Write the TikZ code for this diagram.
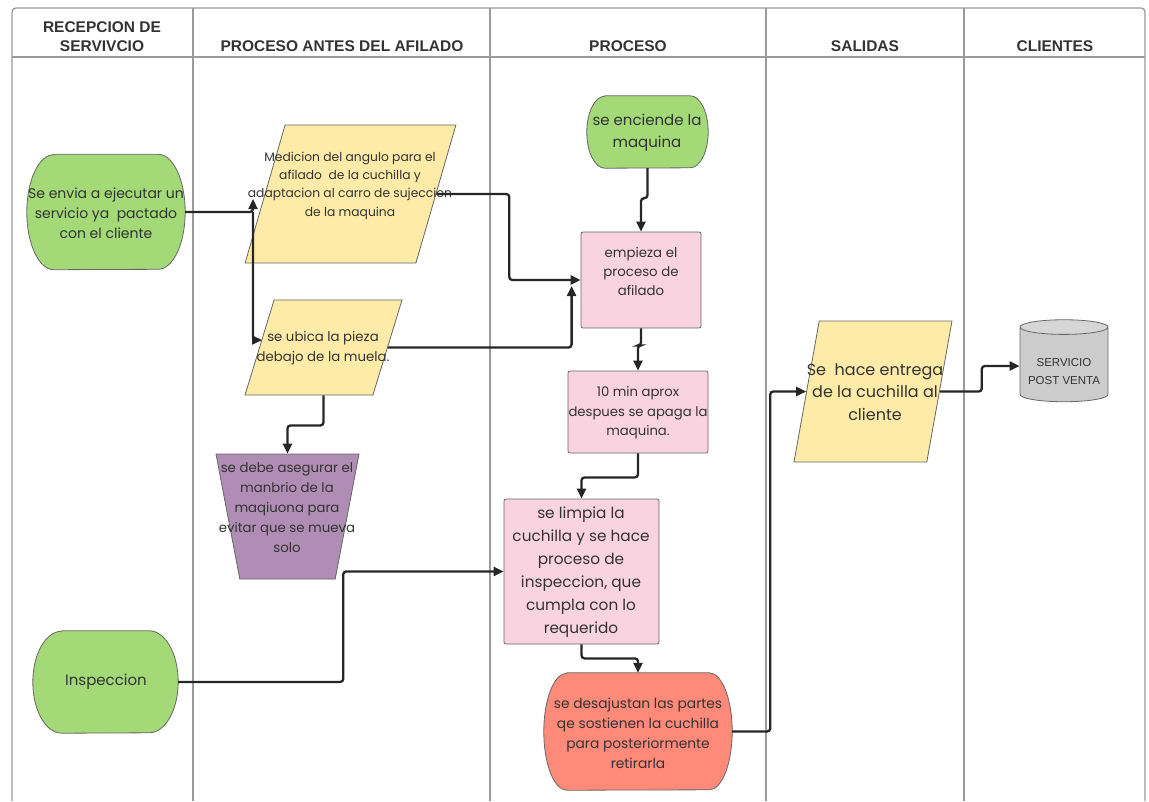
\documentclass[tikz,border=0pt]{standalone}
\usepackage{fontspec}
\newfontfamily\handfont{Poppins}
\newfontfamily\headfont{Liberation Sans}
\usepackage{tikz}
\usetikzlibrary{arrows.meta,shapes.geometric}

\definecolor{lanegray}{HTML}{9A9A9A}
\definecolor{inkgray}{HTML}{333333}
\definecolor{termgreen}{HTML}{A3D977}
\definecolor{paryellow}{HTML}{FFEBA8}
\definecolor{procpink}{HTML}{F9D3DF}
\definecolor{manpurple}{HTML}{B08DB4}
\definecolor{endsalmon}{HTML}{FF8A7A}
\definecolor{dbgray}{HTML}{CCCCCC}

\begin{document}
\begin{tikzpicture}[x=1pt,y=-1pt,
    lane/.style={draw=lanegray,line width=1.3pt},
    head/.style={font=\headfont\bfseries\fontsize{15.5}{19}\selectfont,text=inkgray,align=center},
    txt/.style 2 args={font=\handfont\fontsize{#1}{#2}\selectfont,text=inkgray,align=center,inner sep=0pt},
    box/.style={draw=black!60,line width=0.8pt},
    term/.style={rectangle,inner sep=0pt},
    proc/.style={box,rectangle,rounded corners=2pt,fill=procpink},
    para/.style 2 args={box,trapezium,trapezium stretches=true,trapezium left angle=#1,trapezium right angle=#2,fill=paryellow},
    flow/.style={-{Triangle[length=10pt,width=9pt]},draw=black!85,line width=2.3pt,rounded corners=3pt}]

  \useasboundingbox (0,0) rectangle (1149,801);

  % swimlanes
  \draw[lane,rounded corners=4pt] (12,801) -- (12,8) -- (1145,8) -- (1145,801);
  \draw[lane] (12,57) -- (1145,57);
  \foreach \x in {193,490,766,964}
    \draw[lane] (\x,8) -- (\x,801);

  \node[head] (h1) at (102,37) {RECEPCION DE\\SERVIVCIO};
  \node[head] (h2) at (342,46) {PROCESO ANTES DEL AFILADO};
  \node[head] (h3) at (628,46) {PROCESO};
  \node[head] (h4) at (865,46) {SALIDAS};
  \node[head] (h5) at (1055,46) {CLIENTES};

  % shapes
  \node[term,minimum width=158,minimum height=115] (envia) at (106,212) {};
  \node[term,minimum width=145,minimum height=102] (insp) at (105.5,682) {};
  \node[term,minimum width=121,minimum height=72] (enc) at (647.5,132) {};
  \node[term,minimum width=188,minimum height=117] (des) at (638,731.5) {};
  % terminators with elliptic ends
  \foreach \n/\rx/\ry/\c in {envia/27/57.5/termgreen,insp/29/51/termgreen,enc/18/36/termgreen,des/23/58.5/endsalmon}
    \draw[box,fill=\c] ([xshift=\rx pt]\n.north west) -- ([xshift=-\rx pt]\n.north east)
      arc[start angle=90,end angle=-90,x radius=\rx pt,y radius=\ry pt]
      -- ([xshift=\rx pt]\n.south west) arc[start angle=270,end angle=90,x radius=\rx pt,y radius=\ry pt] -- cycle;

  \node[para={73}{107},minimum width=211,minimum height=138] (med) at (350.5,194) {};
  \node[para={73.6}{106.4},minimum width=157,minimum height=95] (ubica) at (323.5,347.5) {};
  \node[box,trapezium,trapezium stretches=true,trapezium left angle=104,trapezium right angle=104,
        minimum width=143,minimum height=125,fill=manpurple] (pur) at (287.5,516.5) {};
  \node[proc,minimum width=120,minimum height=96] (emp) at (641,280) {};
  \node[proc,minimum width=140,minimum height=82] (min) at (638,412) {};
  \node[proc,minimum width=155,minimum height=145] (limp) at (581.5,571.5) {};
  \node[para={76.8}{103.2},minimum width=158,minimum height=141] (ent) at (873,391.5) {};
  \node[box,cylinder,shape border rotate=90,aspect=2.2,minimum width=88,minimum height=82,
        cylinder uses custom fill,cylinder body fill=dbgray,cylinder end fill=dbgray!80!white] (cyl) at (1064,366) {};

  % texts
  \node[txt={14}{20}] (envia-t) at (106,213) {Se envia a ejecutar un\\servicio ya\ \ pactado\\con el cliente};
  \node[txt={12.3}{18.3}] (med-t) at (350,185.5) {Medicion del angulo para el\\afilado\ \ de la cuchilla y\\adaptacion al carro de sujeccion\\de la maquina};
  \node[txt={13.3}{20}] (ubica-t) at (323,348) {se ubica la pieza\\debajo de la muela.};
  \node[txt={13.3}{20}] (pur-t) at (287,508) {se debe asegurar el\\manbrio de la\\maqiuona para\\evitar que se mueva\\solo};
  \node[txt={15}{20}] (insp-t) at (106,682) {Inspeccion};
  \node[txt={15}{22}] (enc-t) at (647,133) {se enciende la\\maquina};
  \node[txt={13.3}{19}] (emp-t) at (641,271) {empieza el\\proceso de\\afilado};
  \node[txt={13.2}{19.5}] (min-t) at (638,413) {10 min aprox\\despues se apaga la\\maquina.};
  \node[txt={15.3}{23}] (limp-t) at (581,572) {se limpia la\\cuchilla y se hace\\proceso de\\inspeccion, que\\cumpla con lo\\requerido};
  \node[txt={13.8}{20}] (des-t) at (638,733) {se desajustan las partes\\qe sostienen la cuchilla\\para posteriormente\\retirarla};
  \node[txt={16}{22.5}] (ent-t) at (875,392) {Se\ \ hace entrega\\de la cuchilla al\\cliente};
  \node[font=\headfont\fontsize{11.5}{18}\selectfont,text=inkgray,align=center] (cyl-t) at (1064,372) {SERVICIO\\POST VENTA};

  % connectors
  \coordinate (j1) at (253,212);
  \coordinate (med-in) at (253,199);
  \coordinate (ubica-in) at (262,340);
  \coordinate (emp-in) at ([shift={(-9pt,-6pt)}]emp.west);
  \draw[flow] (envia.east) -- (j1) -- (med-in);
  \draw[flow] (j1) |- (ubica-in);
  \draw[flow] (med.east) -- ++(73,0) |- (emp.west);
  \draw[flow] (ubica.east) -| (emp-in);
  \draw[flow] (ubica.center |- ubica.south) -- ++(0,30) -| (pur.north);
  \draw[flow] (enc.south) -- ++(0,30) -| (emp.north);
  \draw[flow] (emp.south) -- ++(0,17) -| (min.north);
  \draw[flow] (min.south) -- ++(0,24) -| (limp.north);
  \draw[flow] (insp.east) -- ++(165,0) |- (limp.west);
  \draw[flow] (limp.south) -- ++(0,14) -| (des.north);
  \draw[flow] (des.east) -- ++(38,0) |- (ent.west);
  \draw[flow] (ent.east) -- ++(42,0) |- (cyl.west);
\end{tikzpicture}
\end{document}
